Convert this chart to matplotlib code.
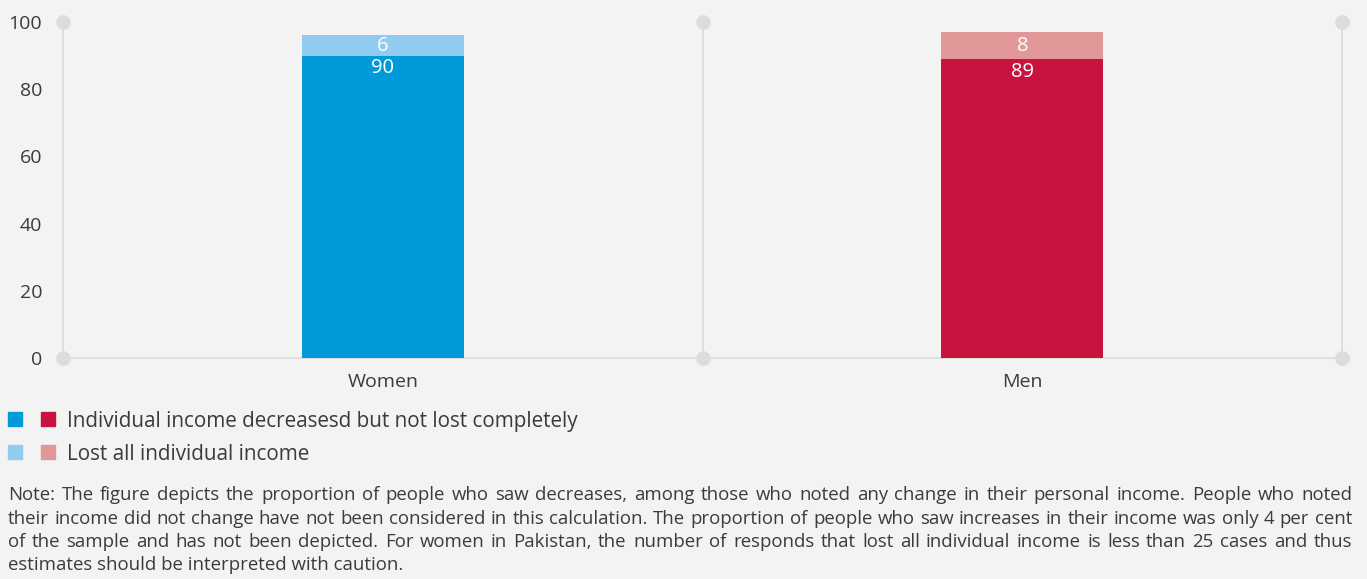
import matplotlib.pyplot as plt
from matplotlib.patches import Rectangle

groups = ["Women", "Men"]
decreased = [90, 89]
lost_all = [6, 8]
legend_labels = ["Individual income decreasesd but not lost completely",
                 "Lost all individual income"]
yticks = [0, 20, 40, 60, 80, 100]
note_lines = [
    "Note: The figure depicts the proportion of people who saw decreases, among those who noted any change in their personal income. People who noted",
    "their income did not change have not been considered in this calculation. The proportion of people who saw increases in their income was only 4 per cent",
    "of the sample and has not been depicted. For women in Pakistan, the number of responds that lost all individual income is less than 25 cases and thus",
    "estimates should be interpreted with caution.",
]

dark_cols = ["#0099da", "#c8133f"]
light_cols = ["#91cbef", "#e29898"]
bg = "#f3f3f3"
txt = "#3b3b3b"
grid_col = "#dcdcdc"

plt.rcParams["font.family"] = ["Open Sans", "DejaVu Sans"]

W, H = 1367, 579
fig = plt.figure(figsize=(W / 100, H / 100), dpi=100, facecolor=bg)
ax = fig.add_axes([63 / W, 1 - 358 / H, (1342 - 63) / W, (358 - 22) / H])
ax.set_facecolor(bg)

x = range(len(groups))
bw = 0.253
ax.bar(x, decreased, width=bw, color=dark_cols, zorder=3)
ax.bar(x, lost_all, width=bw, bottom=decreased, color=light_cols, zorder=3)

for i in x:
    ax.annotate(str(decreased[i]), (i, decreased[i]), xytext=(0, -2),
                textcoords="offset points", ha="center", va="top",
                color="white", fontsize=14.5, zorder=4)
    ax.text(i, decreased[i] + lost_all[i] / 2, str(lost_all[i]), ha="center",
            va="center", color="white", fontsize=14.5, zorder=4)

# category separators with round end caps
for gx in [-0.5, 0.5, 1.5]:
    ax.plot([gx, gx], [0, 100], color=grid_col, lw=1.3, zorder=1, clip_on=False)
    ax.plot([gx, gx], [0, 100], "o", color=grid_col, ms=9.5, zorder=2, clip_on=False)
ax.plot([-0.5, 1.5], [0, 0], color=grid_col, lw=1.3, zorder=1, clip_on=False)

ax.set_xlim(-0.5, 1.5)
ax.set_ylim(0, 100)
ax.set_yticks(yticks)
ax.set_xticks(list(x))
ax.set_xticklabels(groups)
ax.tick_params(length=0, labelsize=14, colors=txt)
ax.tick_params(axis="y", pad=15)
ax.tick_params(axis="x", pad=11)
for s in ax.spines.values():
    s.set_visible(False)

# legend: two colour swatches per row
rows_y = [419, 452]
for r, yy in enumerate(rows_y):
    cols = [dark_cols, light_cols][r]
    for k, xx in enumerate([8, 41]):
        fig.patches.append(Rectangle((xx / W, 1 - (yy + 7) / H), 14 / W, 14 / H,
                                     transform=fig.transFigure, color=cols[k]))
    fig.text(67 / W, 1 - yy / H, legend_labels[r], fontsize=14.9, color=txt,
             va="center_baseline")

# justified note paragraph
renderer = fig.canvas.get_renderer()
left, right = 8, 1352
line_y = [493, 516.5, 540, 563.5]
note_fs = 13.4
for n, line in enumerate(note_lines):
    yy = 1 - line_y[n] / H
    if n == len(note_lines) - 1:
        fig.text(left / W, yy, line, fontsize=note_fs, color=txt, va="center_baseline")
        continue
    words = line.split(" ")
    arts = [fig.text(0, yy, w, fontsize=note_fs, color=txt, va="center_baseline") for w in words]
    widths = [a.get_window_extent(renderer).width for a in arts]
    gap = (right - left - sum(widths)) / (len(words) - 1)
    pos = left
    for a, w in zip(arts, widths):
        a.set_x(pos / W)
        pos += w + gap

fig.savefig("out.png", dpi=100, facecolor=bg)
